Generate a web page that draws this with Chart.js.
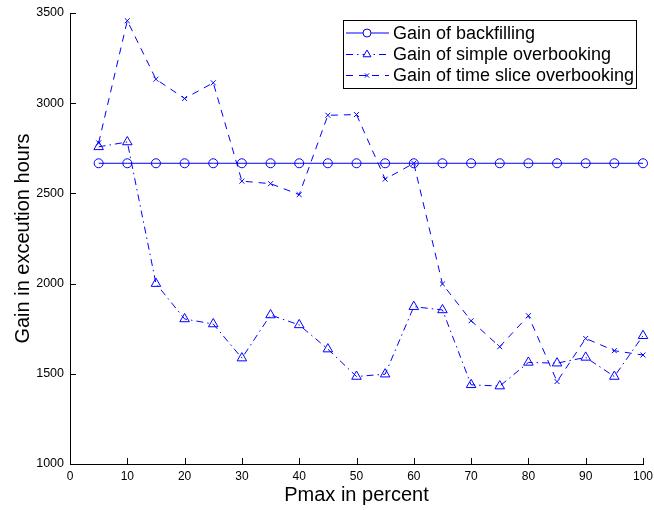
<!DOCTYPE html>
<html>
<head>
<meta charset="utf-8">
<script src="https://cdn.jsdelivr.net/npm/chart.js@4"></script>
<style>
html,body{margin:0;padding:0;background:#fff;}
#wrap{width:654px;height:510px;position:relative;}
</style>
</head>
<body>
<div id="wrap"><canvas id="c" width="654" height="510"></canvas></div>
<script>
const pmax = [5,10,15,20,25,30,35,40,45,50,55,60,65,70,75,80,85,90,95,100];
const backfilling = [2667,2667,2667,2667,2667,2667,2667,2667,2667,2667,2667,2667,2667,2667,2667,2667,2667,2667,2667,2667];
const simpleOverbooking = [2758,2785,2000,1804,1776,1587,1826,1771,1637,1485,1498,1872,1854,1439,1432,1563,1559,1591,1485,1711];
const timeSliceOverbooking = [2780,3457,3133,3026,3113,2568,2554,2493,2933,2937,2579,2667,1998,1794,1650,1822,1457,1696,1628,1604];
const seriesNames = ["Gain of backfilling","Gain of simple overbooking","Gain of time slice overbooking"];
const xTitle = "Pmax in percent";
const yTitle = "Gain in exceution hours";

const BLUE = '#0000ff';
const FONT = '"Liberation Sans", Arial, Helvetica, sans-serif';

function pts(ys){ return pmax.map((x,i)=>({x:x,y:ys[i]})); }

const styles = [
  {pointStyle:'circle', radius:4.5, dash:[]},
  {pointStyle:'triangle', radius:5.5, dash:[7,4,1.5,4]},
  {pointStyle:'crossRot', radius:3.5, dash:[7,6]}
];

const inwardTicks = {
  id:'inwardTicks',
  afterDraw(chart){
    const ctx = chart.ctx, a = chart.chartArea;
    const xs = chart.scales.x, ys = chart.scales.y;
    ctx.save();
    ctx.strokeStyle = '#000'; ctx.lineWidth = 1;
    xs.ticks.forEach(t=>{
      const px = Math.round(xs.getPixelForValue(t.value))+0.5;
      ctx.beginPath(); ctx.moveTo(px,a.bottom); ctx.lineTo(px,a.bottom-6); ctx.stroke();
    });
    ys.ticks.forEach(t=>{
      const py = Math.round(ys.getPixelForValue(t.value))+0.5;
      ctx.beginPath(); ctx.moveTo(a.left,py); ctx.lineTo(a.left+6,py); ctx.stroke();
    });
    ctx.restore();
  }
};

const boxLegend = {
  id:'boxLegend',
  afterDraw(chart){
    const ctx = chart.ctx;
    const bx = 343.5, by = 20.5, bw = 293, bh = 68;
    ctx.save();
    ctx.fillStyle = '#fff';
    ctx.fillRect(bx,by,bw,bh);
    ctx.strokeStyle = '#000'; ctx.lineWidth = 1;
    ctx.strokeRect(bx,by,bw,bh);
    const rowsY = [33, 54.5, 75.5];
    ctx.textBaseline = 'middle';
    chart.data.datasets.forEach((ds,i)=>{
      const y = rowsY[i];
      ctx.strokeStyle = BLUE; ctx.lineWidth = 1;
      ctx.setLineDash(styles[i].dash);
      ctx.beginPath(); ctx.moveTo(346,y); ctx.lineTo(389,y); ctx.stroke();
      ctx.setLineDash([]);
      ctx.fillStyle = '#fff';
      ctx.strokeStyle = BLUE;
      Chart.helpers.drawPoint(ctx,{pointStyle:styles[i].pointStyle,radius:i===1?4.5:styles[i].radius-0.5,borderWidth:1,rotation:0},367,y);
      ctx.fillStyle = '#000';
      ctx.font = '18px ' + FONT;
      ctx.fillText(ds.label, 393, y+1);
    });
    ctx.restore();
  }
};

const datasets = [backfilling, simpleOverbooking, timeSliceOverbooking].map((ys,i)=>({
  label: seriesNames[i],
  data: pts(ys),
  borderColor: BLUE,
  backgroundColor: 'rgba(0,0,0,0)',
  borderWidth: 1,
  borderDash: styles[i].dash,
  pointStyle: styles[i].pointStyle,
  pointRadius: styles[i].radius,
  pointBorderColor: BLUE,
  pointBackgroundColor: 'rgba(0,0,0,0)',
  pointBorderWidth: 1,
  tension: 0,
  fill: false,
  clip: false
}));

new Chart(document.getElementById('c'), {
  type:'line',
  data:{datasets:datasets},
  options:{
    responsive:false,
    animation:false,
    devicePixelRatio:1,
    layout:{padding:{top:13,right:11,left:0,bottom:0}},
    plugins:{legend:{display:false},tooltip:{enabled:false}},
    scales:{
      x:{
        type:'linear', min:0, max:100,
        ticks:{stepSize:10, color:'#000', font:{family:FONT,size:12}, padding:5, maxRotation:0, callback:v=>String(v)},
        grid:{drawOnChartArea:false, drawTicks:false, color:'#000'},
        border:{display:true,color:'#000',width:1},
        title:{display:true, text:xTitle, color:'#000', font:{family:FONT,size:20}, padding:{top:0,bottom:3}},
        afterFit(s){ s.height = 46; s.paddingRight = 0; s.paddingLeft = 0; }
      },
      y:{
        type:'linear', min:1000, max:3500,
        ticks:{stepSize:500, color:'#000', font:{family:FONT,size:12.5}, padding:6, callback:v=>String(v)},
        grid:{drawOnChartArea:false, drawTicks:false, color:'#000'},
        border:{display:true,color:'#000',width:1},
        title:{display:true, text:yTitle, color:'#000', font:{family:FONT,size:20}, padding:{top:11,bottom:0}},
        afterFit(s){ s.width = 70; s.paddingTop = 0; s.paddingBottom = 0; }
      }
    }
  },
  plugins:[inwardTicks, boxLegend]
});
</script>
</body>
</html>
